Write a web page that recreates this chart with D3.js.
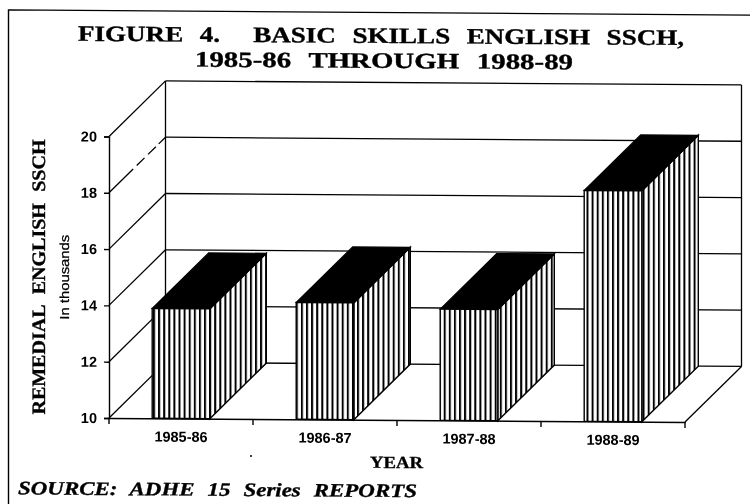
<!DOCTYPE html>
<html><head><meta charset="utf-8">
<script src="https://cdnjs.cloudflare.com/ajax/libs/d3/7.8.5/d3.min.js"></script>
<style>html,body{margin:0;padding:0;background:#fff}svg{display:block;filter:blur(.4px)}</style>
</head><body><div id="chart"></div>
<script>
const categories = ["1985-86", "1986-87", "1987-88", "1988-89"];
const values = [13.9, 14.15, 13.95, 18.2];
const yTicks = [10, 12, 14, 16, 18, 20];
const titleLines = ["FIGURE 4.  BASIC SKILLS ENGLISH SSCH,", "1985-86 THROUGH 1988-89"];
const yTitle = "REMEDIAL ENGLISH SSCH";
const ySubtitle = "In thousands";
const xTitle = "YEAR";
const sourceNote = "SOURCE: ADHE 15 Series REPORTS";

const W = 750, H = 504;
const plotLeft = 109, plotRight = 685, plotTop = 136.5, plotBottom = 418, depthX = 56.5, depthY = 56;
const serif = "'Liberation Serif','Times New Roman',serif";
const sans = "'Liberation Sans',Arial,sans-serif";

const svg = d3.select("#chart").append("svg").attr("width", W).attr("height", H).attr("viewBox", `0 0 ${W} ${H}`);
const defs = svg.append("defs");
const pat = defs.append("pattern").attr("id", "stripes").attr("patternUnits", "userSpaceOnUse").attr("width", 5.1).attr("height", 10);
pat.append("rect").attr("width", 5.1).attr("height", 10).attr("fill", "#fff");
pat.append("rect").attr("x", 0).attr("width", 2).attr("height", 10).attr("fill", "#000");

// slight tilt of the scanned page
const g = svg.append("g").attr("transform", "matrix(1,0.007,0,1,0,-0.76)");

const x = d3.scaleBand().domain(categories).range([plotLeft, plotRight]).paddingInner(0.6).paddingOuter(0.3);
const y = d3.scaleLinear().domain([10, 20]).range([plotBottom, plotTop]);

// wide, heavy typewriter-like text stretched to the measured length
const wide = (transform, str, len, size, wordGap) => g.append("text").attr("transform", transform)
  .attr("textLength", len).attr("lengthAdjust", "spacingAndGlyphs").style("white-space", "pre")
  .style("word-spacing", (wordGap || 0) + "px")
  .attr("font-family", serif).attr("font-weight", 700).attr("font-size", size)
  .attr("fill", "#000").attr("stroke", "#000").attr("stroke-width", 0.35).text(str);

// page frame
g.append("path").attr("d", `M8.5,${H + 5}L8.5,10.6L${W + 5},10.6`).attr("fill", "none").attr("stroke", "#000").attr("stroke-width", 1.4);

// title
const titleX = [78, 195], titleY = [41, 66], titleLen = [606, 378];
titleLines.forEach((t, i) => wide(`translate(${titleX[i]},${titleY[i]})`, t, titleLen[i], 22, 8));

// walls & grid
const line = { stroke: "#000", "stroke-width": 1.3, fill: "none" };
const wall = g.append("g");
const addLine = (x1, y1, x2, y2, dash) => {
  const l = wall.append("line").attr("x1", x1).attr("y1", y1).attr("x2", x2).attr("y2", y2);
  Object.entries(line).forEach(([k, v]) => l.attr(k, v));
  if (dash) l.attr("stroke-dasharray", dash);
};
yTicks.forEach(v => {
  addLine(plotLeft, y(v), plotLeft + depthX, y(v) - depthY, v === 18 ? "34 5 11 5 11 4 11" : null);
  addLine(plotLeft + depthX, y(v) - depthY, plotRight + depthX, y(v) - depthY);
});
addLine(plotLeft + depthX, y(20) - depthY, plotLeft + depthX, y(10) - depthY);
addLine(plotRight + depthX, y(20) - depthY, plotRight + depthX, y(10) - depthY);
addLine(plotRight, y(10), plotRight + depthX, y(10) - depthY);

// axes
const yAxis = d3.axisLeft(y).tickValues(yTicks).tickSize(5).tickPadding(7).tickFormat(d3.format("d"));
const gy = g.append("g").attr("transform", `translate(${plotLeft},0)`).call(yAxis);
gy.select(".domain").attr("stroke-width", 1.4);
gy.selectAll("line").attr("stroke-width", 1.4);
gy.selectAll("text").attr("font-family", sans).attr("font-weight", 700).attr("font-size", 14.5).attr("fill", "#000");

const xAxis = d3.axisBottom(x).tickSize(0).tickPadding(13);
const gx = g.append("g").attr("transform", `translate(0,${plotBottom})`).call(xAxis);
gx.select(".domain").attr("stroke-width", 1.6);
gx.selectAll("text").attr("font-family", sans).attr("font-weight", 700).attr("font-size", 14.5).attr("fill", "#000");
gx.selectAll("line.edge").data(d3.range(categories.length + 1)).join("line").attr("class", "edge")
  .attr("x1", i => plotLeft + i * x.step()).attr("x2", i => plotLeft + i * x.step())
  .attr("y1", 0).attr("y2", 6).attr("stroke", "#000").attr("stroke-width", 1.4);

// bars
const bars = g.selectAll("g.bar").data(categories.map((c, i) => ({ c, v: values[i] }))).join("g").attr("class", "bar");
const poly = pts => "M" + pts.map(p => p.join(",")).join("L") + "Z";
bars.append("path").attr("d", d => {
    const x1 = x(d.c) + x.bandwidth();
    return poly([[x1, y(d.v)], [x1 + depthX, y(d.v) - depthY], [x1 + depthX, y(10) - depthY], [x1, y(10)]]);
  }).attr("fill", "url(#stripes)").attr("stroke", "#000").attr("stroke-width", 1.4);
bars.append("path").attr("d", d => {
    const x0 = x(d.c), x1 = x0 + x.bandwidth();
    return poly([[x0, y(d.v)], [x0 + depthX, y(d.v) - depthY], [x1 + depthX, y(d.v) - depthY], [x1, y(d.v)]]);
  }).attr("fill", "#000").attr("stroke", "#000").attr("stroke-width", 1.2);
bars.append("rect").attr("x", d => x(d.c)).attr("y", d => y(d.v))
  .attr("width", x.bandwidth()).attr("height", d => y(10) - y(d.v))
  .attr("fill", "url(#stripes)").attr("stroke", "#000").attr("stroke-width", 1.4);

// axis titles & note
wide("translate(45,415) rotate(-90)", yTitle, 275, 19, 6);
g.append("text").attr("transform", "translate(69,320) rotate(-90)").attr("textLength", 85).attr("lengthAdjust", "spacingAndGlyphs")
  .attr("font-family", sans).attr("font-size", 13).attr("stroke", "#000").attr("stroke-width", 0.25).attr("fill", "#000").text(ySubtitle);
wide("translate(370,466)", xTitle, 53, 17);
wide("translate(18,495)", sourceNote, 399, 19, 6).attr("font-style", "italic");
g.append("circle").attr("cx", 251).attr("cy", 455).attr("r", 1).attr("fill", "#000");
</script></body></html>
